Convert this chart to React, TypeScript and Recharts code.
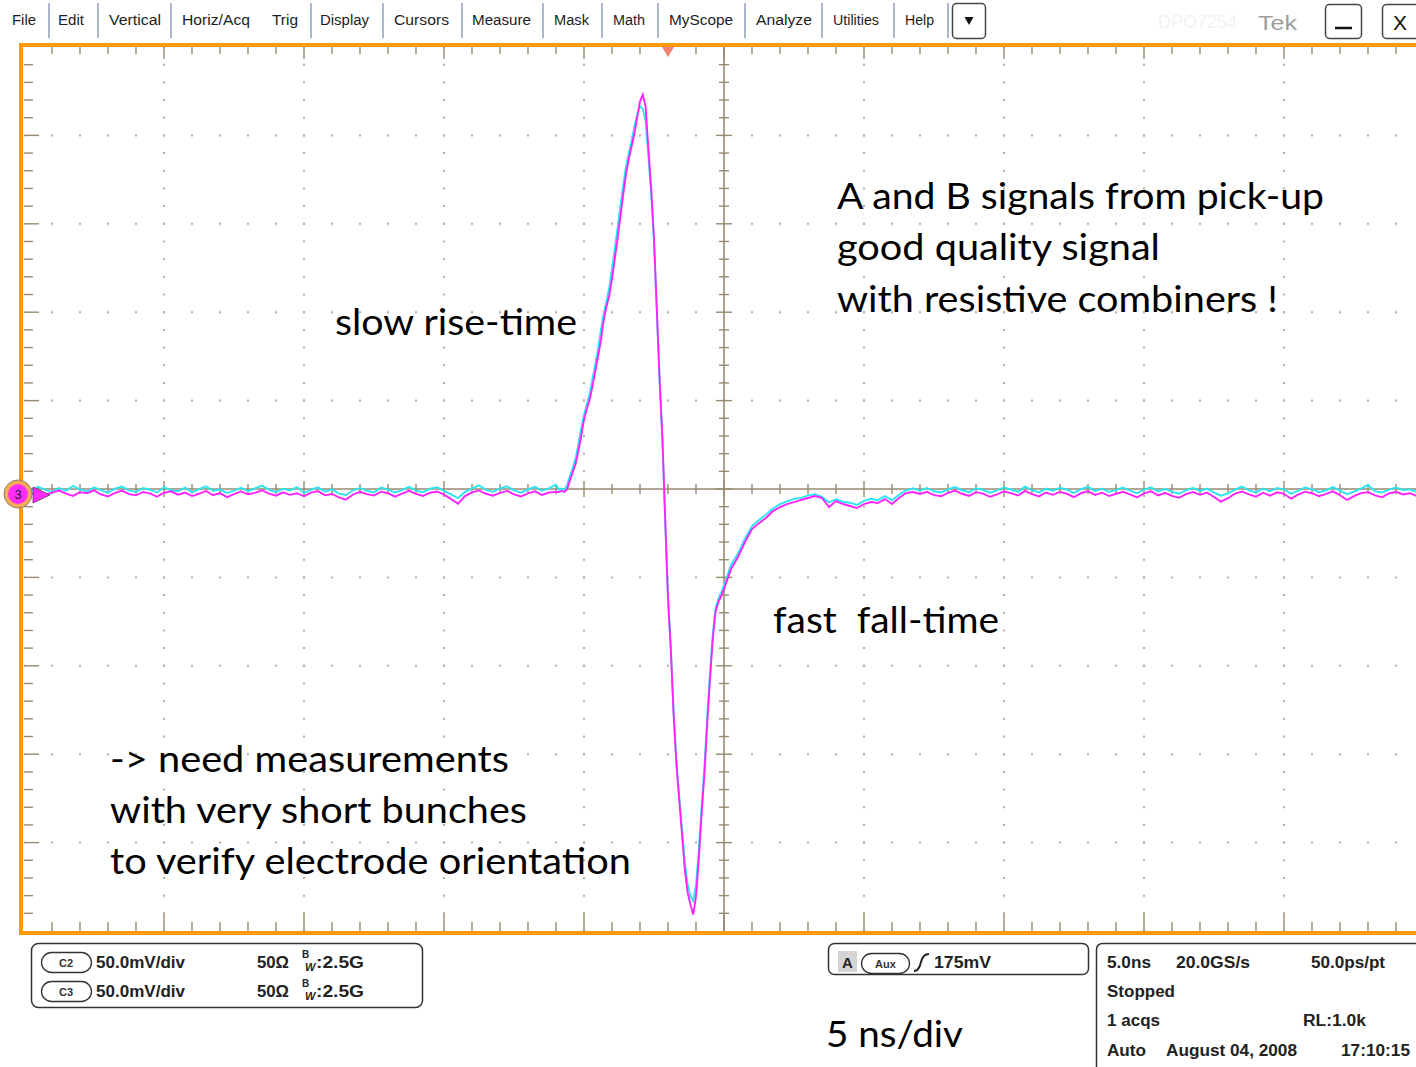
// Oscilloscope capture: pick-up A/B signals, 5 ns/div, 50 mV/div
import React from "react";
import { LineChart, Line, XAxis, YAxis, ReferenceLine } from "recharts";

// time axis (ns) — baseline before the pulse, the pulse itself, and the recovery
const T_PRE = [
  -25, -24.75, -24.5, -24.25, -24, -23.75, -23.5, -23.25, -23, -22.75,
  -22.5, -22.25, -22, -21.75, -21.5, -21.25, -21, -20.75, -20.5, -20.25,
  -20, -19.75, -19.5, -19.25, -19, -18.75, -18.5, -18.25, -18, -17.75,
  -17.5, -17.25, -17, -16.75, -16.5, -16.25, -16, -15.75, -15.5, -15.25,
  -15, -14.75, -14.5, -14.25, -14, -13.75, -13.5, -13.25, -13, -12.75,
  -12.5, -12.25, -12, -11.75, -11.5, -11.25, -11, -10.75, -10.5, -10.25,
  -10, -9.75, -9.5, -9.25, -9, -8.75, -8.5, -8.25, -8, -7.75,
  -7.5, -7.25, -7, -6.75, -6.5, -6.25, -6,
];
const T_PULSE = [
  -5.9, -5.8, -5.7, -5.6, -5.5, -5.4, -5.3, -5.2, -5.1, -5.0,
  -4.9, -4.8, -4.7, -4.6, -4.5, -4.4, -4.3, -4.2, -4.1, -4.0,
  -3.9, -3.8, -3.7, -3.6, -3.5, -3.4, -3.3, -3.2, -3.1, -3.0,
  -2.9, -2.8, -2.7, -2.6, -2.5, -2.4, -2.3, -2.2, -2.1, -2.0,
  -1.9, -1.8, -1.7, -1.6, -1.5, -1.4, -1.3, -1.2, -1.1, -1.0,
  -0.9, -0.8, -0.7, -0.6, -0.5, -0.4, -0.3, -0.2, -0.1, 0,
];
const T_POST = [
  0.25, 0.5, 0.75, 1, 1.25, 1.5, 1.75, 2, 2.25, 2.5,
  2.75, 3, 3.25, 3.5, 3.75, 4, 4.25, 4.5, 4.75, 5,
  5.25, 5.5, 5.75, 6, 6.25, 6.5, 6.75, 7, 7.25, 7.5,
  7.75, 8, 8.25, 8.5, 8.75, 9, 9.25, 9.5, 9.75, 10,
  10.25, 10.5, 10.75, 11, 11.25, 11.5, 11.75, 12, 12.25, 12.5,
  12.75, 13, 13.25, 13.5, 13.75, 14, 14.25, 14.5, 14.75, 15,
  15.25, 15.5, 15.75, 16, 16.25, 16.5, 16.75, 17, 17.25, 17.5,
  17.75, 18, 18.25, 18.5, 18.75, 19, 19.25, 19.5, 19.75, 20,
  20.25, 20.5, 20.75, 21, 21.25, 21.5, 21.75, 22, 22.25, 22.5,
  22.75, 23, 23.25, 23.5, 23.75, 24, 24.25, 24.5, 24.75, 25,
];

// C2 (cyan), mV
const C2_PRE = [
  0.4, -1.1, 1.2, -0.3, -1.8, 0.6, -0.9, 1.7, -0.2, -1.4,
  0.9, -0.6, -2.1, 0.2, 1.4, -0.8, -1.6, 0.5, -0.4, -2.0,
  1.0, -0.7, -1.3, 0.8, -1.9, -0.1, 1.5, -1.0, -0.3, -2.3,
  -0.9, 0.7, -1.2, 0.3, 1.9, -0.5, -1.7, 0.1, -0.8, 1.1,
  -2.2, -0.4, 0.9, -1.5, -0.2, -2.6, -3.4, -0.7, 0.6, -1.0,
  -1.9, 0.8, -0.3, -2.0, -0.6, 1.3, -0.9, -1.8, 0.2, 1.0,
  -1.1, -3.0, -5.2, -1.6, 0.4, 2.1, -0.5, -1.6, 0.3, 1.6,
  -0.8, -2.1, -0.2, 1.2, -1.0, 0.5, 2.4,
];
const C2_PULSE = [
  -0.3, 0.2, -0.5, 2.5, 7.5, 12.0, 17.5, 25.5, 34.5, 42.0,
  48.0, 54.0, 62.0, 70.5, 79.0, 89.5, 99.0, 106.0, 114.0, 124.5,
  136.0, 148.0, 160.0, 172.0, 182.5, 190.0, 197.0, 205.0, 212.0, 216.5,
  215.0, 208.0, 188.0, 167.0, 140.0, 101.0, 62.0, 28.0, -17.5, -61.0,
  -90.0, -126.0, -153.5, -173.5, -192.5, -211.0, -223.5, -230.0, -233.0, -224.0,
  -204.5, -180.0, -157.5, -129.0, -104.0, -82.0, -67.0, -62.0, -58.5, -54.5,
];
const C2_POST = [
  -43.0, -36.5, -28.0, -21.0, -17.5, -14.5, -11.0, -8.6, -7.0, -5.6,
  -5.0, -3.6, -3.0, -4.5, -7.6, -5.8, -7.2, -7.8, -9.0, -6.7,
  -5.5, -6.3, -4.0, -6.4, -3.2, -0.8, 0.4, -0.9, 0.6, -1.3,
  -2.0, -0.2, 1.1, -0.7, -1.8, 0.4, -0.5, -2.1, -0.8, 0.9,
  -0.3, -1.6, 1.3, -0.6, -1.9, 0.2, -1.0, 0.7, -0.4, -2.2,
  -0.1, 1.2, -1.2, 0.3, -1.7, -0.5, 0.8, -0.9, -2.4, -0.3,
  1.0, -1.4, 0.1, -1.5, -2.7, -0.6, 0.5, -1.1, 0.2, -2.0,
  -3.8, -2.5, -0.4, 1.4, -0.8, -1.9, 0.3, -1.3, 0.6, -0.2,
  -2.6, -1.0, 0.9, -0.1, -1.8, -0.7, 1.1, -0.9, -2.9, -1.5,
  0.2, 2.3, -1.2, -2.0, -0.3, 0.8, -0.6, -0.2, -1.7, 0.4,
];

// C3 (magenta), mV
const C3_PRE = [
  -1.2, -2.8, -1.5, -3.4, -2.0, -0.9, -2.6, -3.9, -1.8, -2.4,
  -0.8, -3.1, -4.2, -2.2, -1.0, -2.9, -3.6, -1.7, -2.5, -4.4,
  -2.1, -1.3, -3.2, -2.0, -4.0, -2.7, -1.1, -3.5, -2.3, -4.6,
  -2.9, -1.4, -3.0, -2.2, -0.7, -2.6, -3.8, -1.9, -3.3, -2.4,
  -4.1, -2.0, -1.2, -3.6, -2.8, -4.7, -6.0, -3.1, -1.6, -2.9,
  -3.7, -1.5, -2.4, -4.3, -2.6, -1.0, -2.8, -3.9, -2.1, -1.4,
  -3.2, -5.6, -8.4, -4.0, -1.9, -0.8, -2.7, -3.8, -2.2, -1.1,
  -3.0, -4.2, -2.5, -1.3, -3.4, -2.0, -1.6,
];
const C3_PULSE = [
  -1.7, -1.1, -1.7, 0.0, 5.1, 9.6, 14.2, 21.5, 30.0, 39.1,
  45.3, 50.4, 57.8, 66.3, 74.8, 83.8, 95.1, 103.1, 109.3, 118.9,
  130.2, 141.6, 154.0, 166.5, 177.8, 186.9, 193.7, 201.0, 210.1, 219.2,
  223.1, 216.3, 192.5, 169.9, 141.6, 101.9, 62.3, 28.3, -17.0, -62.3,
  -90.6, -127.4, -155.7, -175.6, -195.4, -215.2, -228.2, -235.0, -240.7, -230.5,
  -209.5, -184.0, -161.4, -133.1, -107.6, -84.9, -69.1, -64.0, -60.6, -56.6,
];
const C3_POST = [
  -45.3, -38.5, -30.0, -22.7, -19.3, -16.4, -12.5, -10.2, -8.5, -7.4,
  -6.2, -5.1, -4.0, -5.1, -10.2, -6.8, -8.5, -9.6, -10.8, -8.5,
  -7.4, -7.9, -5.7, -8.5, -5.1, -2.3, -1.7, -2.8, -1.6, -3.5,
  -4.1, -2.2, -0.9, -2.7, -3.9, -1.8, -2.6, -4.4, -3.0, -1.4,
  -2.3, -3.7, -1.1, -2.9, -4.2, -2.0, -3.3, -1.5, -2.8, -4.6,
  -2.4, -1.2, -3.4, -2.1, -4.0, -2.7, -1.6, -3.1, -4.8, -2.5,
  -1.3, -3.6, -2.2, -3.9, -5.0, -2.9, -1.7, -3.3, -2.0, -4.5,
  -7.1, -5.2, -2.6, -1.4, -3.0, -4.3, -2.1, -3.8, -1.9, -2.7,
  -5.5, -3.2, -1.5, -2.4, -4.1, -2.8, -1.3, -3.5, -6.2, -4.0,
  -2.3, -1.8, -3.6, -4.7, -2.5, -1.6, -3.1, -2.4, -4.0, -2.9,
];

const TIME_NS = [...T_PRE, ...T_PULSE, ...T_POST];
const C2_MV = [...C2_PRE, ...C2_PULSE, ...C2_POST];
const C3_MV = [...C3_PRE, ...C3_PULSE, ...C3_POST];

// graticule: 10 x 10 divisions, 5 minor per division
const MINOR_NS = [
  -24, -23, -22, -21, -20, -19, -18, -17, -16, -15, -14, -13, -12, -11, -10, -9, -8,
  -7, -6, -5, -4, -3, -2, -1, 0, 1, 2, 3, 4, 5, 6, 7, 8, 9, 10, 11, 12, 13, 14, 15,
  16, 17, 18, 19, 20, 21, 22, 23, 24,
];
const MINOR_MV = [
  -240, -230, -220, -210, -200, -190, -180, -170, -160, -150, -140, -130, -120, -110,
  -100, -90, -80, -70, -60, -50, -40, -30, -20, -10, 0, 10, 20, 30, 40, 50, 60, 70,
  80, 90, 100, 110, 120, 130, 140, 150, 160, 170, 180, 190, 200, 210, 220, 230, 240,
];
const GRID_NS = [-20, -15, -10, -5, 5, 10, 15, 20];
const GRID_MV = [-200, -150, -100, -50, 50, 100, 150, 200];

const MENU_LABELS = ["File", "Edit", "Vertical", "Horiz/Acq", "Trig", "Display", "Cursors", "Measure", "Mask", "Math", "MyScope", "Analyze", "Utilities", "Help"];
const MENU_X = [12, 58, 109, 182, 272, 320, 394, 472, 554, 613, 669, 756, 833, 905];
const MENU_W = [24, 26, 52, 68, 26, 49, 55, 59, 35, 32, 64, 56, 46, 29];
const MENU_SEP_X = [49, 98, 171, 311, 383, 462, 543, 602, 658, 745, 822, 894, 948];

const NOTES = [
  { text: "A and B signals from pick-up", x: 837, y: 209, w: 487 },
  { text: "good quality signal", x: 837, y: 260, w: 323 },
  { text: "with resistive combiners !", x: 837, y: 312, w: 441 },
  { text: "slow rise-time", x: 335, y: 335, w: 242 },
  { text: "fast  fall-time", x: 773, y: 633, w: 226 },
  { text: "-> need measurements", x: 110, y: 772, w: 399 },
  { text: "with very short bunches", x: 110, y: 823, w: 417 },
  { text: "to verify electrode orientation", x: 110, y: 874, w: 521 },
  { text: "5 ns/div", x: 826, y: 1047, w: 137 },
];

const STATUS = [
  { text: "50.0mV/div", x: 96, y: 968, w: 89 },
  { text: "50Ω", x: 257, y: 968, w: 32 },
  { text: ":2.5G", x: 316, y: 968, w: 48 },
  { text: "50.0mV/div", x: 96, y: 997, w: 89 },
  { text: "50Ω", x: 257, y: 997, w: 32 },
  { text: ":2.5G", x: 316, y: 997, w: 48 },
  { text: "175mV", x: 934, y: 968, w: 57 },
  { text: "5.0ns", x: 1107, y: 968, w: 44 },
  { text: "20.0GS/s", x: 1176, y: 968, w: 74 },
  { text: "50.0ps/pt", x: 1311, y: 968, w: 74 },
  { text: "Stopped", x: 1107, y: 997, w: 68 },
  { text: "1 acqs", x: 1107, y: 1026, w: 53 },
  { text: "RL:1.0k", x: 1303, y: 1026, w: 63 },
  { text: "Auto", x: 1107, y: 1056, w: 39 },
  { text: "August 04, 2008", x: 1166, y: 1056, w: 131 },
  { text: "17:10:15", x: 1341, y: 1056, w: 69 },
];

const AXIS = "#968b70";
const DOTS = "#b8af98";

const rows = TIME_NS.map((t, i) => ({ t, c2: C2_MV[i], c3: C3_MV[i] }));

const isMajorNs = (v: number) => v % 5 === 0;
const isMajorMv = (v: number) => v % 50 === 0;

export default function App() {
  return (
    <div style={{ position: "absolute", left: 0, top: 0, width: 1416, height: 1067, background: "#fff", overflow: "hidden" }}>
      {/* menu bar + status panel */}
      <svg width={1416} height={1067} style={{ position: "absolute", left: 0, top: 0 }}>
        {MENU_LABELS.map((m, i) => (
          <text key={m} x={MENU_X[i]} y={25} fontFamily="Liberation Sans" fontSize={14} fill="#1c1c1c" textLength={MENU_W[i]} lengthAdjust="spacingAndGlyphs">{m}</text>
        ))}
        {MENU_SEP_X.map((x) => (
          <line key={x} x1={x} x2={x} y1={3} y2={38} stroke="#7d8db3" strokeWidth={1.3} />
        ))}
        <rect x={952.5} y={3.5} width={33} height={35} rx={4} fill="#fff" stroke="#444" strokeWidth={1.5} />
        <path d="M964.5 17 L973.5 17 L969 25 Z" fill="#111" />
        <text x={1158} y={28} fontFamily="Liberation Sans" fontSize={18} fill="#f2f2f2">DPO7254</text>
        <text x={1258} y={30} fontFamily="Liberation Sans" fontSize={21} fill="#9d9d9d" textLength={39} lengthAdjust="spacingAndGlyphs">Tek</text>
        <rect x={1325.5} y={4.5} width={36} height={34} rx={4} fill="#fff" stroke="#444" strokeWidth={1.5} />
        <line x1={1335} x2={1352} y1={28} y2={28} stroke="#111" strokeWidth={2.5} />
        <rect x={1382.5} y={4.5} width={40} height={34} rx={4} fill="#fff" stroke="#444" strokeWidth={1.5} />
        <text x={1400} y={30} textAnchor="middle" fontFamily="Liberation Sans" fontSize={21} fill="#111">X</text>

        {/* channel readout */}
        <rect x={31.5} y={943.5} width={391} height={64} rx={7} fill="#fff" stroke="#333" strokeWidth={1.5} />
        <rect x={41.5} y={952.5} width={50} height={20} rx={10} fill="#fff" stroke="#333" strokeWidth={1.3} />
        <text x={66} y={967} textAnchor="middle" fontFamily="Liberation Sans" fontWeight="bold" fontSize={11} fill="#333">C2</text>
        <rect x={41.5} y={981.5} width={50} height={20} rx={10} fill="#fff" stroke="#333" strokeWidth={1.3} />
        <text x={66} y={996} textAnchor="middle" fontFamily="Liberation Sans" fontWeight="bold" fontSize={11} fill="#333">C3</text>
        {[958, 987].map((y) => (
          <g key={y}>
            <text x={302} y={y} fontFamily="Liberation Sans" fontWeight="bold" fontSize={10} fill="#222">B</text>
            <text x={305} y={y + 13} fontFamily="Liberation Sans" fontWeight="bold" fontStyle="italic" fontSize={11} fill="#222">W</text>
          </g>
        ))}

        {/* trigger readout */}
        <rect x={828.5} y={943.5} width={260} height={31} rx={6} fill="#fff" stroke="#333" strokeWidth={1.5} />
        <rect x={838} y={951} width={19} height={21} fill="#d4d4d4" />
        <text x={847.5} y={968} textAnchor="middle" fontFamily="Liberation Sans" fontWeight="bold" fontSize={15} fill="#222">A</text>
        <rect x={861.5} y={953.5} width={48} height={20} rx={10} fill="#fff" stroke="#333" strokeWidth={1.3} />
        <text x={885.5} y={968} textAnchor="middle" fontFamily="Liberation Sans" fontWeight="bold" fontSize={11} fill="#333">Aux</text>
        <path d="M914 971 Q919 971 921 962 Q923 954 929 954" fill="none" stroke="#222" strokeWidth={2} />

        {/* acquisition readout */}
        <path d="M1096.5 1067 L1096.5 950 Q1096.5 943.5 1103 943.5 L1420 943.5" fill="none" stroke="#333" strokeWidth={1.5} />

        {STATUS.map((s, i) => (
          <text key={i} x={s.x} y={s.y} fontFamily="Liberation Sans" fontWeight="bold" fontSize={16} fill="#222" textLength={s.w} lengthAdjust="spacingAndGlyphs">{s.text}</text>
        ))}
      </svg>

      {/* graticule frame */}
      <div style={{ position: "absolute", left: 19, top: 43, width: 1420, height: 892, border: "4px solid #ff9a0a", boxSizing: "border-box" }} />

      <div style={{ position: "absolute", left: 24, top: 47 }}>
        <LineChart width={1400} height={884} data={rows} margin={{ top: 0, right: 0, bottom: 0, left: 0 }}>
          <XAxis dataKey="t" type="number" domain={[-25, 25]} hide allowDataOverflow />
          <YAxis type="number" domain={[-250, 250]} hide allowDataOverflow />

          {GRID_NS.map((v) => (
            <ReferenceLine key={`gx${v}`} x={v} stroke={DOTS} strokeWidth={2} strokeDasharray="2 15.68" strokeDashoffset={1} />
          ))}
          {GRID_MV.map((v) => (
            <ReferenceLine key={`gy${v}`} y={v} stroke={DOTS} strokeWidth={2} strokeDasharray="2 26" strokeDashoffset={1} />
          ))}

          <ReferenceLine x={0} stroke={AXIS} strokeWidth={1.6} />
          <ReferenceLine y={0} stroke={AXIS} strokeWidth={1.6} />

          {MINOR_NS.map((v) => {
            const h = isMajorNs(v) ? 4.5 : 2.8;
            return <ReferenceLine key={`cx${v}`} segment={[{ x: v, y: -h }, { x: v, y: h }]} stroke={AXIS} strokeWidth={1.4} />;
          })}
          {MINOR_MV.map((v) => {
            const h = isMajorMv(v) ? 0.29 : 0.18;
            return <ReferenceLine key={`cy${v}`} segment={[{ x: -h, y: v }, { x: h, y: v }]} stroke={AXIS} strokeWidth={1.4} />;
          })}
          {MINOR_NS.map((v) => (
            <ReferenceLine key={`tx${v}`} segment={[{ x: v, y: 250 }, { x: v, y: isMajorNs(v) ? 243.2 : 246 }]} stroke={AXIS} strokeWidth={1.4} />
          ))}
          {MINOR_NS.map((v) => (
            <ReferenceLine key={`bx${v}`} segment={[{ x: v, y: -250 }, { x: v, y: isMajorNs(v) ? -240.4 : -244.9 }]} stroke={AXIS} strokeWidth={1.4} />
          ))}
          {MINOR_MV.map((v) => (
            <ReferenceLine key={`ly${v}`} segment={[{ x: -25, y: v }, { x: isMajorMv(v) ? -24.46 : -24.68, y: v }]} stroke={AXIS} strokeWidth={1.4} />
          ))}

          <Line type="linear" dataKey="c2" stroke="#2ae6f2" strokeWidth={1.9} dot={false} activeDot={false} isAnimationActive={false} />
          <Line type="linear" dataKey="c3" stroke="#ff24ff" strokeWidth={1.9} dot={false} activeDot={false} isAnimationActive={false} />
        </LineChart>
      </div>

      {/* markers + annotations */}
      <svg width={1416} height={1067} style={{ position: "absolute", left: 0, top: 0, pointerEvents: "none" }}>
        <path d="M662 47 L674 47 L668 57 Z" fill="#f3826c" />
        <circle cx={18} cy={494} r={14} fill="#f8aa55" stroke="#8c8070" strokeWidth={1} />
        <circle cx={18} cy={494} r={10} fill="#ff2bff" />
        <text x={18} y={499} textAnchor="middle" fontFamily="Liberation Sans" fontSize={13} fill="#222">3</text>
        <path d="M33 487 L50 495 L33 503 Z" fill="#ff2bff" stroke="#6e2a6e" strokeWidth={0.8} />
        {NOTES.map((n) => (
          <text key={n.text} x={n.x} y={n.y} fontFamily="Lato" fontSize={36} fill="#000" textLength={n.w} lengthAdjust="spacingAndGlyphs" style={{ whiteSpace: "pre" }}>{n.text}</text>
        ))}
      </svg>
    </div>
  );
}
